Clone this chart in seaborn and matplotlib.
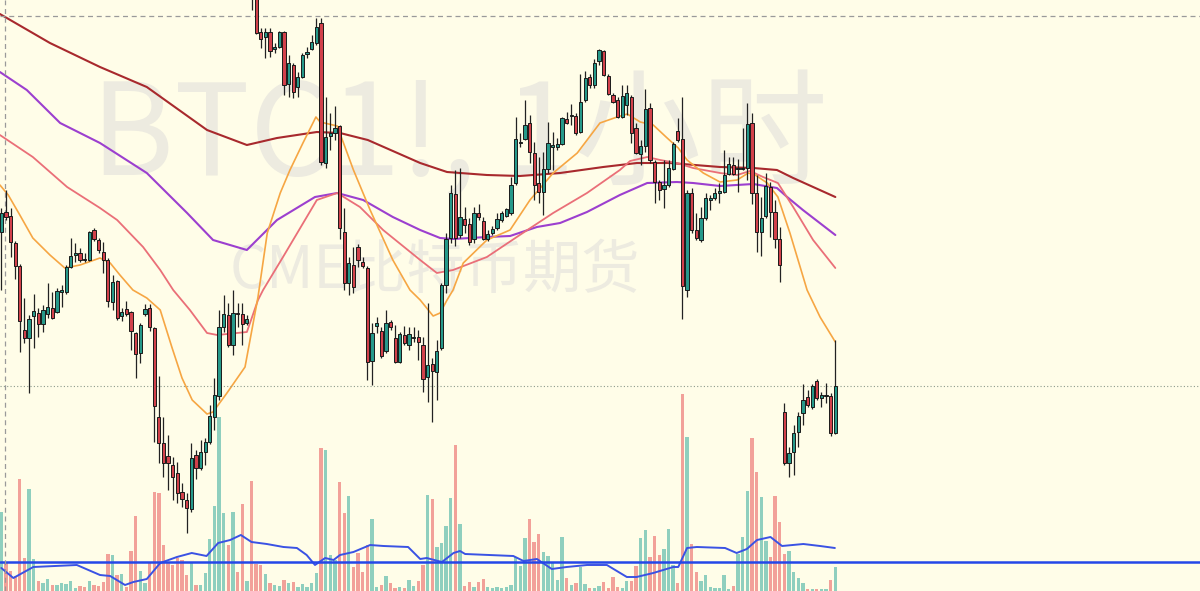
import matplotlib
matplotlib.use("Agg")
import matplotlib.pyplot as plt
import seaborn as sns
import numpy as np

# hourly candles, price in chart units (no axis labels on the reference)
opens = [368, 388, 384, 357, 334, 270, 262, 284, 287, 276,
         286, 292, 288, 308, 308, 333, 345, 347, 341, 340,
         370, 360, 348, 340, 298, 319, 284, 291, 288, 267,
         247, 286, 292, 272, 183, 157, 144, 135, 127, 108,
         100, 91, 145, 132, 148, 158, 183, 204, 273, 285,
         255, 287, 286, 277, 630, 605, 568, 563, 568, 551,
         553, 568, 516, 535, 513, 523, 546, 551, 557, 577,
         437, 464, 467, 474, 368, 317, 335, 353, 338, 332,
         239, 274, 269, 249, 278, 262, 238, 265, 255, 262.5,
         263, 255, 223, 236, 228, 252, 315, 362, 406, 365,
         381, 376, 361, 387, 379, 361, 367, 372, 380, 384,
         387, 417, 457.5, 461, 477, 447, 417, 408, 431, 453,
         453, 456, 481, 484.5, 484, 468, 500, 523, 515, 539,
         549, 524, 505, 500, 483, 495, 503, 472, 446, 454,
         492, 438, 418, 411, 415, 431, 469, 461, 310, 407,
         370, 360, 382, 400, 402, 407, 408, 426, 435, 431.5,
         431.5, 432, 477, 407, 368, 384, 413, 388, 361, 188,
         137, 148, 168, 187, 203, 193, 219, 202, 204.5, 204,
         167]
closes = [387, 383, 358, 334, 279, 262, 281, 289, 276, 290,
          293, 282, 309, 310, 333, 344, 347, 340, 340, 368,
          361, 350, 340, 299, 318, 282, 288, 286, 269, 246,
          275, 291, 273, 194, 157, 137, 137, 123, 107, 101,
          92, 142, 132, 148, 158, 184, 205, 273, 286, 255,
          287, 286, 276, 281, 605, 567, 561, 568, 549, 553,
          568, 515, 537, 508, 523, 545, 548, 558, 573, 438,
          463, 467, 472, 372, 317, 337, 313, 340, 334, 238,
          267, 277, 244, 277, 273, 238, 266, 257, 266, 263,
          258, 221, 235, 229, 249, 315, 361, 407, 362, 383,
          375, 358, 387, 383, 361, 366, 371, 381, 387, 391,
          415, 461, 458, 475, 448, 415, 408, 431, 457, 455,
          456, 482, 477, 485, 467, 498, 522, 515, 537, 550,
          525, 506, 498, 483, 504, 507, 467, 447, 454, 491,
          440, 418, 410, 415, 432, 456, 460, 314, 407, 370,
          362, 382, 402, 402, 407, 409, 425, 436, 426, 432,
          432, 476, 407, 368, 382, 414, 388, 361, 335, 137,
          147, 167, 184, 200, 195, 214, 202, 205, 205, 167,
          214]
highs = [392, 410, 392, 359, 336, 302, 285, 306, 292, 295,
         317, 308, 312, 315, 335, 362, 357, 352, 347, 369,
         372, 362, 358, 342, 325, 320, 292, 299, 289, 268,
         277, 296, 296, 273, 224, 183, 165, 143, 138, 117,
         107, 157, 150, 160, 162, 195, 222, 290, 305, 297,
         310, 297, 297, 285, 640, 610, 572, 572, 572, 557,
         569, 569, 545, 537, 528, 547, 553, 565, 582, 582,
         503, 487, 494, 475, 392, 343, 353, 356, 343, 334,
         277, 283, 273, 290, 280, 275, 268, 274, 273, 273,
         270, 263, 297, 242, 260, 317, 367, 415, 430, 432,
         393, 382, 393, 396, 383, 370, 374, 387, 389, 392,
         423, 483, 467, 500, 485, 458, 443, 448, 478, 468,
         462, 483, 488, 496, 487, 526, 529, 526, 541, 551,
         550, 526, 507, 503, 515, 515, 505, 477, 460, 511,
         497, 440, 420, 440, 440, 458, 482, 503, 410, 412,
         387, 393, 407, 405, 412, 417, 450, 443, 443, 441,
         472, 497, 487, 425, 403, 427, 418, 400, 373, 197,
         153, 175, 188, 216, 210, 216, 221, 208, 217, 207,
         260]
lows = [310, 380, 343, 321, 248, 257, 207, 252, 263, 268,
        282, 281, 287, 293, 306, 332, 338, 338, 338, 339,
        359, 347, 327, 293, 290, 280, 279, 284, 250, 222,
        237, 284, 269, 158, 137, 123, 110, 100, 97, 93,
        67, 88, 121, 130, 135, 156, 170, 200, 268, 253,
        245, 273, 255, 275, 590, 566, 552, 542, 543, 547,
        552, 505, 503, 502, 503, 522, 542, 550, 555, 435,
        432, 450, 460, 361, 310, 305, 307, 333, 332, 220,
        215, 267, 242, 247, 270, 237, 237, 255, 250, 258,
        240, 208, 198, 178, 200, 250, 307, 357, 354, 362,
        367, 355, 357, 380, 360, 359, 365, 370, 378, 383,
        385, 415, 453, 460, 437, 400, 397, 385, 427, 430,
        450, 455, 476, 475, 465, 467, 498, 512, 512, 535,
        524, 505, 497, 482, 482, 485, 457, 446, 435, 448,
        437, 397, 400, 392, 413, 430, 458, 281, 303, 367,
        360, 358, 380, 390, 400, 397, 407, 425, 425, 408,
        430, 420, 396, 348, 344, 382, 363, 352, 318, 135,
        123, 125, 153, 175, 193, 191, 200, 193, 197, 164,
        166]
volumes = [79, 28, 20, 15, 112, 33, 102, 32, 10, 8,
           12, 6, 6, 8, 7, 10, 3, 5, 4, 10,
           6, 5, 9, 37, 36, 16, 17, 4, 40, 75,
           20, 8, 28, 99, 98, 46, 29, 26, 33, 31,
           16, 29, 6, 6, 18, 52, 85, 174, 78, 46,
           79, 19, 87, 10, 110, 27, 26, 17, 8, 6,
           5, 11, 8, 9, 4, 7, 4, 8, 18, 143,
           141, 36, 31, 109, 78, 95, 24, 38, 19, 46,
           72, 4, 6, 15, 8, 3, 4, 3, 11, 5,
           10, 26, 96, 92, 44, 48, 65, 93, 146, 67,
           5, 9, 4, 9, 12, 4, 3, 4, 3, 4,
           6, 34, 25, 53, 72, 49, 57, 39, 35, 28,
           11, 54, 13, 6, 8, 24, 7, 3, 3, 5,
           9, 3, 14, 4, 3, 10, 10, 25, 53, 61,
           34, 55, 36, 42, 62, 26, 8, 197, 154, 47,
           19, 10, 16, 4, 3, 3, 16, 2, 5, 37,
           54, 100, 153, 119, 94, 50, 34, 95, 69, 37,
           40, 19, 13, 8, 2, 2, 2, 2, 2, 11,
           24]

# moving averages, read as (bar index, value) vertices
ma_fast_idx = [-0.3, 1.5, 4.0, 6.8, 10.5, 13.7, 17.0, 21.3, 23.5, 25.6, 28.4, 31.4, 34.3, 36.8, 39.0,
               41.2, 44.4, 45.7, 48.7, 52.6, 55.4, 57.4, 60.2, 62.3, 65.1, 67.9, 68.8, 72.5, 76.0,
               79.6, 84.5, 88.2, 90.4, 93.2, 94.7, 96.2, 97.5, 99.7, 104.8, 109.8, 114.1, 119.1,
               124.3, 129.2, 132.9, 135.1, 137.9, 140.7, 143.7, 146.1, 148.0, 151.5, 155.1, 158.8,
               161.2, 162.7, 165.3, 167.6, 170.2, 173.9, 176.7, 180.0]
ma_fast = [415, 405, 385, 362, 345, 332, 335, 342, 337, 325, 310, 302, 290, 253, 222,
           200, 186, 188, 207, 233, 303, 367, 407, 430, 457, 483, 478, 474, 430,
           390, 340, 310, 300, 284, 287, 300, 310, 337, 360, 370, 400, 427,
           447, 477, 483, 486, 478, 475, 462, 452, 440, 427, 418, 420,
           427, 425, 417, 403, 367, 310, 283, 258]
ma_mid_idx = [-0.3, 6.8, 14.2, 21.3, 25.0, 30.6, 34.3, 37.1, 40.7, 44.4, 46.6, 53.0, 55.4, 56.5,
              60.8, 68.1, 72.5, 77.4, 82.4, 90.4, 94.0, 97.5, 104.8, 111.9, 119.1, 126.4, 133.5,
              135.7, 139.4, 142.2, 145.8, 149.3, 155.1, 158.8, 161.6, 164.4, 167.6, 170.9, 175.2, 180.0]
ma_mid = [465, 443, 413, 392, 380, 353, 330, 310, 290, 267, 265, 268, 300, 310,
          343, 400, 407, 393, 370, 340, 327, 330, 343, 365, 387, 407, 430,
          439, 443, 440, 437, 432, 427, 425, 429, 423, 417, 393, 360, 332]
ma_slow_idx = [-0.3, 5.5, 12.7, 21.3, 31.4, 40.1, 45.7, 53.0, 59.5, 67.7, 72.5, 78.1, 84.5, 90.4,
               94.7, 97.5, 104.8, 109.8, 115.6, 120.6, 126.4, 133.5, 139.4, 145.8, 149.3, 155.1,
               162.3, 167.4, 169.6, 173.0, 180.0]
ma_slow = [528, 510, 477, 457, 427, 387, 360, 350, 380, 403, 407, 400, 383, 370,
           362, 361, 363, 364, 373, 377, 388, 405, 417, 418, 417, 414,
           416, 412, 403, 390, 365]
ma_long_idx = [-0.3, 10.5, 21.3, 31.4, 44.4, 53.0, 59.5, 68.1, 73.1, 79.1, 90.4, 96.2, 104.8, 111.9,
               120.6, 129.9, 137.2, 144.3, 155.1, 162.3, 167.4, 170.9, 180.0]
ma_long = [586, 557, 533, 513, 470, 455, 462, 468, 467, 460, 437, 428, 425, 424,
           427, 433, 437, 437, 433, 432, 430, 422, 403]

vol_ma_idx = [0, 2.6, 6.9, 16.3, 21.3, 23.5, 26.7, 28.5, 31.4, 34.3, 37.9, 41.1, 44.3, 46.8, 49.4,
              51.7, 54.0, 57.3, 60.9, 63.8, 65.9, 67.7, 69.9, 71.7, 73.1, 76.0, 79.6, 82.5, 87.8,
              90.4, 91.8, 95.1, 97.6, 99.0, 100.1, 110.5, 112.7, 115.6, 118.8, 122.0, 126.4, 130.7,
              135.0, 137.1, 140.7, 145.0, 146.1, 148.0, 150.1, 156.2, 158.7, 160.9, 163.1, 166.0,
              168.5, 173.1, 176.7, 179.9]
vol_ma = [23, 13, 24, 26, 16, 15, 6, 9, 12, 28, 34, 38, 35, 48, 51,
          56, 49, 47, 44, 43, 36, 26, 33, 31, 36, 39, 46, 45, 44,
          32, 33, 29, 38, 40, 37, 35, 30, 32, 22, 24, 26, 26,
          14, 14, 18, 24, 24, 43, 44, 43, 38, 42, 51, 54,
          45, 47, 45, 43]
vol_level = 29
crosshair_x = 0.8
crosshair_y = 584

bg = '#fffde8'
up_c, dn_c = '#26998a', '#d2414b'
up_v, dn_v = '#8fcfbe', '#f2a199'
wm_c = '#edebe0'

sns.set_theme(style='white')
plt.rcParams['font.family'] = ['Noto Sans CJK SC', 'DejaVu Sans']

fig = plt.figure(figsize=(12, 5.91), dpi=100, facecolor=bg)
ax_vol = fig.add_axes([0, 0, 1, 1], facecolor=bg)
ax = fig.add_axes([0, 0, 1, 1], sharex=ax_vol)
ax.patch.set_alpha(0)

idx = np.arange(len(opens))
o = np.array(opens); c = np.array(closes)
up = c >= o

# watermark sits on the bottom axes so everything else draws over it
ax_vol.text(0.383, 0.704, 'BTC1!, 1小时', transform=fig.transFigure, fontsize=91,
            color=wm_c, ha='center', va='baseline', zorder=0)
ax_vol.text(0.3625, 0.513, 'CME比特币期货', transform=fig.transFigure, fontsize=42,
            color=wm_c, ha='center', va='baseline', zorder=0)

# volume pane
ax_vol.bar(idx, volumes, width=0.72, color=np.where(up, up_v, dn_v), linewidth=0, zorder=1)
sns.lineplot(x=vol_ma_idx, y=vol_ma, color='#3a52e4', lw=1.4, ax=ax_vol, estimator=None, sort=False)
ax_vol.axhline(vol_level, color='#2447e8', lw=1.8)
ax_vol.set_ylim(0, 591)

# moving averages
for xs, ys, col, lw in [(ma_long_idx, ma_long, '#a8292d', 1.5),
                        (ma_slow_idx, ma_slow, '#9c3fcf', 1.5),
                        (ma_mid_idx, ma_mid, '#ea6f78', 1.3),
                        (ma_fast_idx, ma_fast, '#f6a643', 1.2)]:
    sns.lineplot(x=xs, y=ys, color=col, lw=lw, ax=ax, estimator=None, sort=False)

# candles
ax.vlines(idx, lows, highs, color='#222222', lw=0.9, zorder=3)
body = np.maximum(np.abs(c - o), 0.8)
ax.bar(idx, body, bottom=np.minimum(o, c), width=0.7, color=np.where(up, up_c, dn_c),
       edgecolor='#1a1a1a', linewidth=0.7, zorder=4)

ax.axvline(crosshair_x, color='#9a9a9a', lw=0.9, ls=(0, (4, 3)))
ax.axhline(crosshair_y, color='#9a9a9a', lw=0.9, ls=(0, (4, 3)))
ax.axhline(closes[-1], color='#8c9a8c', lw=0.8, ls=(0, (1, 2)))

ax.set_xlim(-0.28, 258.7)
ax.set_ylim(9, 600)
for a in (ax, ax_vol):
    a.set_axis_off()

fig.savefig('out.png', dpi=100, facecolor=bg)
